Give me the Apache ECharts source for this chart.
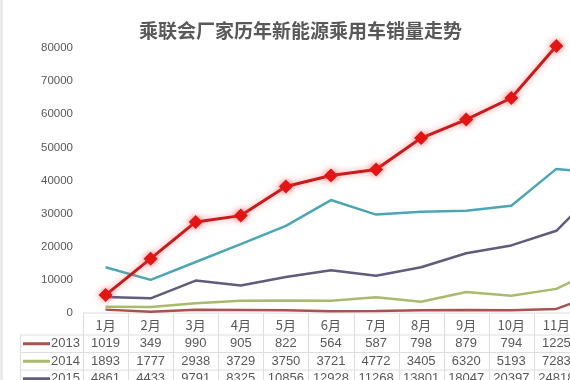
<!DOCTYPE html>
<html lang="zh-CN">
<head>
    <meta charset="UTF-8">
    <title>乘联会厂家历年新能源乘用车销量走势</title>
    <script src="https://cdn.jsdelivr.net/npm/echarts@6/dist/echarts.min.js"></script>
    <style>
        html, body {
            margin: 0;
            padding: 0;
            width: 570px;
            height: 380px;
            overflow: hidden;
            background: #fff;
        }
        /* 原图右侧被裁掉一截（12月），所以画布比窗口宽 */
        #charts {
            width: 640px;
            height: 380px;
        }
    </style>
</head>
<body>
<div id="charts"></div>

<script>
    var months = ['1月','2月','3月','4月','5月','6月','7月','8月','9月','10月','11月','12月'];
    var years = ['2013','2014','2015','2016','2017'];
    var s2013 = [1019,349,990,905,822,564,587,798,879,794,1225,6200];
    var s2014 = [1893,1777,2938,3729,3750,3721,4772,3405,6320,5193,7283,13800];
    var s2015 = [4861,4433,9791,8325,10856,12928,11268,13801,18047,20397,24818,38500];
    var s2016 = [13800,10000,15400,20800,26300,34100,29700,30600,30900,32400,43500,42300];
    var s2017 = [5400,16400,27500,29400,38200,41500,43300,52800,58400,64900,80600];
    var yTicks = [0,10000,20000,30000,40000,50000,60000,70000,80000];

    var seriesData = [s2013, s2014, s2015, s2016, s2017];
    var colors = ['#A9524F','#A8BB6C','#5F5C7C','#4CA6B3','#CC1F1F'];

    var chart = document.getElementById('charts');
    var myChart = echarts.init(chart);
    var textColor = '#595959';
    var lineGray = '#DEDEDE';

    var series = [];
    for (var i = 0; i < years.length; i++) {
        var s = {
            name: years[i],
            type: 'line',
            data: seriesData[i],
            symbol: 'none',
            clip: false,
            z: 2 + i,
            lineStyle: { color: colors[i], width: 2.5 },
            itemStyle: { color: colors[i] }
        };
        if (years[i] === '2017') {
            s.symbol = 'diamond';
            s.symbolSize = 14;
            s.lineStyle = {
                color: '#C81B1B', width: 3,
                shadowColor: 'rgba(255,70,70,0.55)', shadowBlur: 6
            };
            s.itemStyle = {
                color: '#E31414',
                shadowColor: 'rgba(255,60,60,0.7)', shadowBlur: 7
            };
        }
        series.push(s);
    }

    option = {
        animation: false,
        title: {
            text: '乘联会厂家历年新能源乘用车销量走势',
            left: 134,
            top: 16,
            textStyle: {
                color: textColor,
                fontSize: 19,
                fontWeight: 'bold',
                fontFamily: 'Noto Sans CJK SC'
            }
        },
        grid: {
            left: 83,
            right: 16,
            top: 48,
            bottom: 67,
            containLabel: false
        },
        xAxis: {
            type: 'category',
            data: months,
            boundaryGap: true,
            axisLine: { show: false },
            axisTick: { show: false },
            axisLabel: { show: false }
        },
        yAxis: {
            type: 'value',
            min: yTicks[0],
            max: yTicks[yTicks.length - 1],
            interval: yTicks[1] - yTicks[0],
            axisLine: { show: false },
            axisTick: { show: false },
            splitLine: { show: false },
            axisLabel: {
                color: textColor,
                fontSize: 11.5,
                margin: 10,
                fontFamily: 'Liberation Sans',
                formatter: function (v) { return String(v); }
            }
        },
        series: series
    };
    myChart.setOption(option, true);

    // 图表下方的数据表，列位置取自类目轴
    function buildTable() {
        var els = [];
        var c0 = myChart.convertToPixel({xAxisIndex: 0}, 0);
        var c1 = myChart.convertToPixel({xAxisIndex: 0}, 1);
        var band = c1 - c0;
        var x0 = c0 - band / 2;
        var x1 = x0 + band * months.length;
        var yTop = myChart.convertToPixel({yAxisIndex: 0}, 0);
        var headH = 22, rowH = 17.5;
        var legendLeft = 20;

        // 横线
        els.push({ type: 'line', shape: {x1: x0, y1: yTop, x2: x1, y2: yTop},
            style: {stroke: lineGray, lineWidth: 1}, silent: true });
        for (var r = 0; r <= years.length; r++) {
            var yy = yTop + headH + r * rowH;
            els.push({ type: 'line', shape: {x1: legendLeft, y1: yy, x2: x1, y2: yy},
                style: {stroke: lineGray, lineWidth: 1}, silent: true });
        }
        // 竖线
        var yBottom = yTop + headH + years.length * rowH;
        for (var k = 0; k <= months.length; k++) {
            var xx = Math.round(x0 + k * band) + 0.5;
            els.push({ type: 'line', shape: {x1: xx, y1: yTop, x2: xx, y2: yBottom},
                style: {stroke: lineGray, lineWidth: 1}, silent: true });
        }
        els.push({ type: 'line', shape: {x1: legendLeft + 0.5, y1: yTop + headH, x2: legendLeft + 0.5, y2: yBottom},
            style: {stroke: lineGray, lineWidth: 1}, silent: true });

        // 月份
        for (var m = 0; m < months.length; m++) {
            els.push({ type: 'text', x: c0 + m * band, y: yTop + headH / 2 + 1,
                style: { text: months[m], fill: textColor, fontSize: 13,
                    fontFamily: 'Noto Sans CJK SC', align: 'center', verticalAlign: 'middle' },
                silent: true });
        }
        // 各年份行
        for (var i = 0; i < years.length; i++) {
            var cy = yTop + headH + rowH * i + rowH / 2;
            els.push({ type: 'line', shape: {x1: 23, y1: cy, x2: 50, y2: cy},
                style: {stroke: colors[i], lineWidth: 3}, silent: true });
            els.push({ type: 'text', x: 80, y: cy,
                style: { text: years[i], fill: textColor, fontSize: 13,
                    fontFamily: 'Liberation Sans', align: 'right', verticalAlign: 'middle' },
                silent: true });
            for (var j = 0; j < seriesData[i].length; j++) {
                els.push({ type: 'text', x: c0 + j * band, y: cy,
                    style: { text: String(seriesData[i][j]), fill: textColor, fontSize: 13,
                        fontFamily: 'Liberation Sans', align: 'center', verticalAlign: 'middle' },
                    silent: true });
            }
        }
        // 左侧边框
        els.push({ type: 'line', shape: {x1: 1.5, y1: 0, x2: 1.5, y2: 380},
            style: {stroke: '#E3E3E3', lineWidth: 2}, silent: true });

        myChart.setOption({ graphic: { elements: els } });
    }
    buildTable();
</script>
</body>
</html>
